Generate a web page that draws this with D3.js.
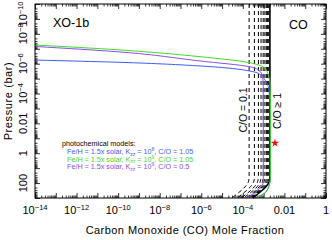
<!DOCTYPE html>
<html>
<head>
<meta charset="utf-8">
<script src="https://cdn.jsdelivr.net/npm/d3@7"></script>
<style>
  body { margin: 0; background: #fff; }
  text { font-family: "Liberation Sans", Arial, sans-serif; }
</style>
</head>
<body>
<svg id="chart" width="332" height="240"></svg>
<script>
// tick labels
var xTickVals = [1e-14, 1e-12, 1e-10, 1e-8, 1e-6, 1e-4, 1e-2, 1];
var xTickText = [['10', '-14'], ['10', '-12'], ['10', '-10'], ['10', '-8'], ['10', '-6'], ['10', '-4'], ['0.01', ''], ['1', '']];
var yTickVals = [1e-10, 1e-8, 1e-6, 1e-4, 1e-2, 1, 100];
var yTickText = [['10', '-10'], ['10', '-8'], ['10', '-6'], ['10', '-4'], ['0.01', ''], ['1', ''], ['100', '']];

// equilibrium CO profiles (dashed: C/O = 0.1 ... 0.9, solid: C/O >= 1)
var eqPressure = [1e-10, 1, 30, 60, 120, 250, 500, 1000];
var eqRatios = [0.1, 0.2, 0.3, 0.4, 0.5, 0.6, 0.7, 0.8, 0.9, 1.0];
var eqCO = [
    [2.0e-4, 2.0e-4, 2.0e-4, 1.95e-4, 1.6e-4, 1.0e-4, 5.6e-5, 3.0e-5],
    [3.6e-4, 3.6e-4, 3.6e-4, 3.5e-4, 2.9e-4, 1.8e-4, 1.0e-4, 5.4e-5],
    [5.6e-4, 5.6e-4, 5.6e-4, 5.4e-4, 4.5e-4, 2.8e-4, 1.6e-4, 8.4e-5],
    [7.5e-4, 7.5e-4, 7.5e-4, 7.2e-4, 6.0e-4, 3.8e-4, 2.1e-4, 1.1e-4],
    [9.5e-4, 9.5e-4, 9.5e-4, 9.2e-4, 7.6e-4, 4.8e-4, 2.7e-4, 1.4e-4],
    [1.15e-3, 1.15e-3, 1.15e-3, 1.1e-3, 9.2e-4, 5.8e-4, 3.2e-4, 1.7e-4],
    [1.35e-3, 1.35e-3, 1.35e-3, 1.3e-3, 1.08e-3, 6.8e-4, 3.8e-4, 2.0e-4],
    [1.55e-3, 1.55e-3, 1.55e-3, 1.5e-3, 1.24e-3, 7.8e-4, 4.4e-4, 2.3e-4],
    [1.75e-3, 1.75e-3, 1.75e-3, 1.7e-3, 1.4e-3, 8.8e-4, 4.9e-4, 2.6e-4],
    [2.0e-3, 2.0e-3, 2.0e-3, 1.95e-3, 1.6e-3, 1.0e-3, 5.6e-4, 3.0e-4]
];

// photochemical models
var blueP  = [5.7e-7, 8.1e-7, 1.42e-6, 3.1e-6, 4.4e-6, 1.24e-5, 3.5e-5, 1.25e-4, 1.3e-3, 46, 214, 630, 1000];
var blueCO = [1e-14, 1.23e-10, 8.7e-7, 2.2e-4, 5.5e-4, 1.16e-3, 1.67e-3, 1.9e-3, 2.05e-3, 2.1e-3, 1.65e-3, 8.3e-4, 3.8e-4];
var greenP  = [5.6e-8, 1.2e-7, 3.4e-7, 8.6e-7, 1.32e-6, 2.0e-6, 5.7e-6, 2.06e-5, 1.25e-4, 46, 214, 630, 1000];
var greenCO = [1e-14, 1.23e-10, 8.7e-7, 2.2e-4, 6.7e-4, 1.16e-3, 1.67e-3, 2.02e-3, 2.1e-3, 2.1e-3, 1.65e-3, 8.3e-4, 3.8e-4];
var purpleP  = [7.0e-8, 1.64e-7, 6.6e-7, 1.6e-6, 2.45e-6, 7.4e-6, 3.5e-5, 81, 290, 740, 1000];
var purpleCO = [1e-14, 1.23e-10, 8.7e-7, 2.2e-4, 5.3e-4, 9.0e-4, 9.6e-4, 9.6e-4, 5.3e-4, 2.2e-4, 1.3e-4];

// observed point
var starCO = 3.5e-3;
var starP = 0.21;

var svg = d3.select('#chart');
var pLeft = 35, pRight = 326, pTop = 4, pBottom = 198;

var x = d3.scaleLog().domain([1e-14, 1]).range([pLeft, pRight]);
var y = d3.scaleLog().domain([1e-10, 1000]).range([pTop, pBottom]);

// ticks: decades (major) and 2..9 (minor)
function decades(lo, hi) {
    var out = [];
    for (var e = lo; e <= hi; e++) out.push(Math.pow(10, e));
    return out;
}
function minors(lo, hi) {
    var out = [];
    for (var e = lo; e < hi; e++)
        for (var k = 2; k <= 9; k++) out.push(k * Math.pow(10, e));
    return out;
}

var xMaj = decades(-14, 0), xMin = minors(-14, 0);
var yMaj = decades(-10, 3), yMin = minors(-10, 3);

function addAxis(axisFn, scale, vals, size, transform) {
    var g = svg.append('g')
        .attr('transform', transform)
        .call(axisFn(scale).tickValues(vals).tickSize(-size).tickFormat(''));
    g.select('.domain').remove();
    g.selectAll('line').attr('stroke', '#000').attr('stroke-width', 0.8);
}
addAxis(d3.axisBottom, x, xMaj, 5, 'translate(0,' + pBottom + ')');
addAxis(d3.axisBottom, x, xMin, 2.5, 'translate(0,' + pBottom + ')');
addAxis(d3.axisTop, x, xMaj, 5, 'translate(0,' + pTop + ')');
addAxis(d3.axisTop, x, xMin, 2.5, 'translate(0,' + pTop + ')');
addAxis(d3.axisLeft, y, yMaj, 5, 'translate(' + pLeft + ',0)');
addAxis(d3.axisLeft, y, yMin, 2.5, 'translate(' + pLeft + ',0)');
addAxis(d3.axisRight, y, yMaj, 5, 'translate(' + pRight + ',0)');
addAxis(d3.axisRight, y, yMin, 2.5, 'translate(' + pRight + ',0)');

// equilibrium lines
var eqLine = d3.line()
    .x(function (d) { return x(d[0]); })
    .y(function (d) { return y(d[1]); })
    .curve(d3.curveMonotoneY);

eqRatios.forEach(function (r, i) {
    var pts = eqCO[i].map(function (c, j) { return [c, eqPressure[j]]; });
    svg.append('path')
        .attr('d', eqLine(pts))
        .attr('fill', 'none')
        .attr('stroke', '#000')
        .attr('stroke-width', r >= 1 ? 1.6 : 1)
        .attr('stroke-dasharray', r >= 1 ? null : '4,3');
});

// model lines
function model(co, p, color) {
    var pts = co.map(function (c, j) { return [c, p[j]]; });
    svg.append('path')
        .attr('d', eqLine(pts))
        .attr('fill', 'none')
        .attr('stroke', color)
        .attr('stroke-width', 1);
}
model(blueCO, blueP, '#3f5cf5');
model(purpleCO, purpleP, '#8a4df0');
model(greenCO, greenP, '#3fdc1e');

// star
svg.append('path')
    .attr('d', d3.symbol().type(d3.symbolStar).size(22)())
    .attr('transform', 'translate(' + x(starCO) + ',' + y(starP) + ')')
    .attr('fill', '#f01010');

// frame
svg.append('rect')
    .attr('x', pLeft).attr('y', pTop)
    .attr('width', pRight - pLeft).attr('height', pBottom - pTop)
    .attr('fill', 'none').attr('stroke', '#000').attr('stroke-width', 1);

// x tick labels
xTickVals.forEach(function (v, i) {
    var t = svg.append('text')
        .attr('x', x(v)).attr('y', 214)
        .attr('text-anchor', 'middle')
        .attr('font-size', 11);
    t.append('tspan').text(xTickText[i][0]);
    if (xTickText[i][1]) {
        t.append('tspan').attr('dy', -4.5).attr('font-size', 7.5).text('\u2212' + xTickText[i][1].slice(1));
    }
});

// y tick labels (rotated); the top one is nudged down to stay in view
yTickVals.forEach(function (v, i) {
    var t = svg.append('text')
        .attr('transform', 'translate(27,' + Math.max(y(v), 14) + ') rotate(-90)')
        .attr('text-anchor', 'middle')
        .attr('font-size', 11);
    t.append('tspan').text(yTickText[i][0]);
    if (yTickText[i][1]) {
        t.append('tspan').attr('dy', -4.5).attr('font-size', 7.5).text('\u2212' + yTickText[i][1].slice(1));
    }
});

// axis titles
svg.append('text')
    .attr('x', 185).attr('y', 234)
    .attr('text-anchor', 'middle')
    .attr('font-size', 11)
    .attr('letter-spacing', 0.45)
    .text('Carbon Monoxide (CO) Mole Fraction');
svg.append('text')
    .attr('transform', 'translate(12,101) rotate(-90)')
    .attr('text-anchor', 'middle')
    .attr('font-size', 11)
    .attr('letter-spacing', 0.6)
    .text('Pressure (bar)');

// annotations
svg.append('text').attr('x', 53).attr('y', 27).attr('font-size', 12.5).text('XO-1b');
svg.append('text').attr('x', 289).attr('y', 29).attr('font-size', 12.5).text('CO');
svg.append('text')
    .attr('transform', 'translate(247,110) rotate(-90)')
    .attr('text-anchor', 'middle')
    .attr('font-size', 10.5)
    .text('C/O = 0.1');
svg.append('text')
    .attr('transform', 'translate(281,111) rotate(-90)')
    .attr('text-anchor', 'middle')
    .attr('font-size', 10.5)
    .text('C/O \u2265 1');

// legend
svg.append('text').attr('x', 62).attr('y', 146).attr('font-size', 7.2).attr('fill', '#000').text('photochemical models:');
var legKzz = ['8', '9', '9'];
var legCO = ['1.05', '1.05', '0.5'];
var legColor = ['#3f5cf5', '#3fdc1e', '#8a4df0'];
legKzz.forEach(function (k, i) {
    var t = svg.append('text')
        .attr('x', 67).attr('y', 154 + i * 7.5)
        .attr('font-size', 7.2)
        .attr('fill', legColor[i]);
    t.append('tspan').text('Fe/H = 1.5x solar, K');
    t.append('tspan').attr('dy', 1.5).attr('font-size', 5).text('zz');
    t.append('tspan').attr('dy', -1.5).text(' = 10');
    t.append('tspan').attr('dy', -3).attr('font-size', 5).text(k);
    t.append('tspan').attr('dy', 3).text(', C/O = ' + legCO[i]);
});
</script>
</body>
</html>
